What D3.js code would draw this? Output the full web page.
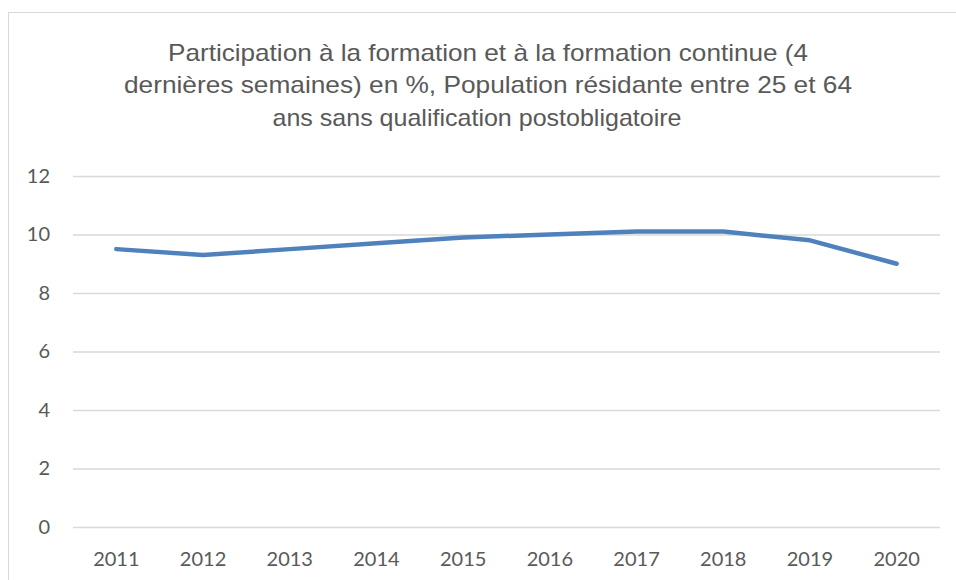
<!DOCTYPE html>
<html><head><meta charset="utf-8">
<script src="https://cdn.jsdelivr.net/npm/d3@7"></script>
<style>body{margin:0;background:#fff}svg{display:block}</style>
</head><body>
<svg id="c" width="956" height="580"></svg>
<script>
const years = ["2011","2012","2013","2014","2015","2016","2017","2018","2019","2020"];
const values = [9.5, 9.3, 9.5, 9.7, 9.9, 10.0, 10.1, 10.1, 9.8, 9.0];
const yTicks = [0, 2, 4, 6, 8, 10, 12];
const titleLines = ["Participation à la formation et à la formation continue (4",
  "dernières semaines) en %, Population résidante entre 25 et 64",
  "ans sans qualification postobligatoire"];

(function(){
const svg = d3.select("#c");
svg.append("rect").attr("x",8.5).attr("y",12.5).attr("width",960).attr("height",600)
  .attr("fill","#fff").attr("stroke","#d9d9d9").attr("stroke-width",1);

const pl = 73, pr = 940, pt = 176, pb = 527;
const x = d3.scaleBand().domain(years).range([pl, pr]);
const y = d3.scaleLinear().domain([0, 12]).range([pb, pt]);

// title
const tl = [[488, 61, 640], [488, 93, 728], [477, 126, 409]];
svg.append("g").selectAll("text").data(titleLines).join("text")
  .attr("x", (d,i)=>tl[i][0]).attr("y",(d,i)=>tl[i][1])
  .attr("text-anchor","middle")
  .attr("font-family","'Liberation Sans', Arial, sans-serif")
  .attr("font-size",24).attr("fill","#595959")
  .attr("textLength",(d,i)=>tl[i][2]).attr("lengthAdjust","spacingAndGlyphs")
  .text(d=>d);

// grid
svg.append("g").selectAll("line").data(yTicks).join("line")
  .attr("x1",pl).attr("x2",pr)
  .attr("y1",d=>y(d)+0.5).attr("y2",d=>y(d)+0.5)
  .attr("stroke","#d9d9d9").attr("stroke-width",1.3);

// y axis
const ya = svg.append("g").attr("transform",`translate(50,0)`)
  .call(d3.axisLeft(y).tickValues(yTicks).tickSize(0).tickPadding(0));
ya.select(".domain").remove();
ya.selectAll("text").attr("font-family","Lato, 'Open Sans', sans-serif")
  .attr("font-size",20).attr("fill","#595959");

// x axis
const xa = svg.append("g").attr("transform",`translate(0,566)`)
  .call(d3.axisBottom(x).tickSize(0).tickPadding(0));
xa.select(".domain").remove();
xa.selectAll("text").attr("font-family","Lato, 'Open Sans', sans-serif")
  .attr("font-size",20).attr("fill","#595959").attr("dy","0");

// line
const line = d3.line().x((d,i)=>x(years[i])+x.bandwidth()/2).y(d=>y(d));
svg.append("path").datum(values).attr("d",line)
  .attr("fill","none").attr("stroke","#4f81bd").attr("stroke-width",4.5)
  .attr("stroke-linecap","round").attr("stroke-linejoin","round");
})();
</script>
</body></html>
